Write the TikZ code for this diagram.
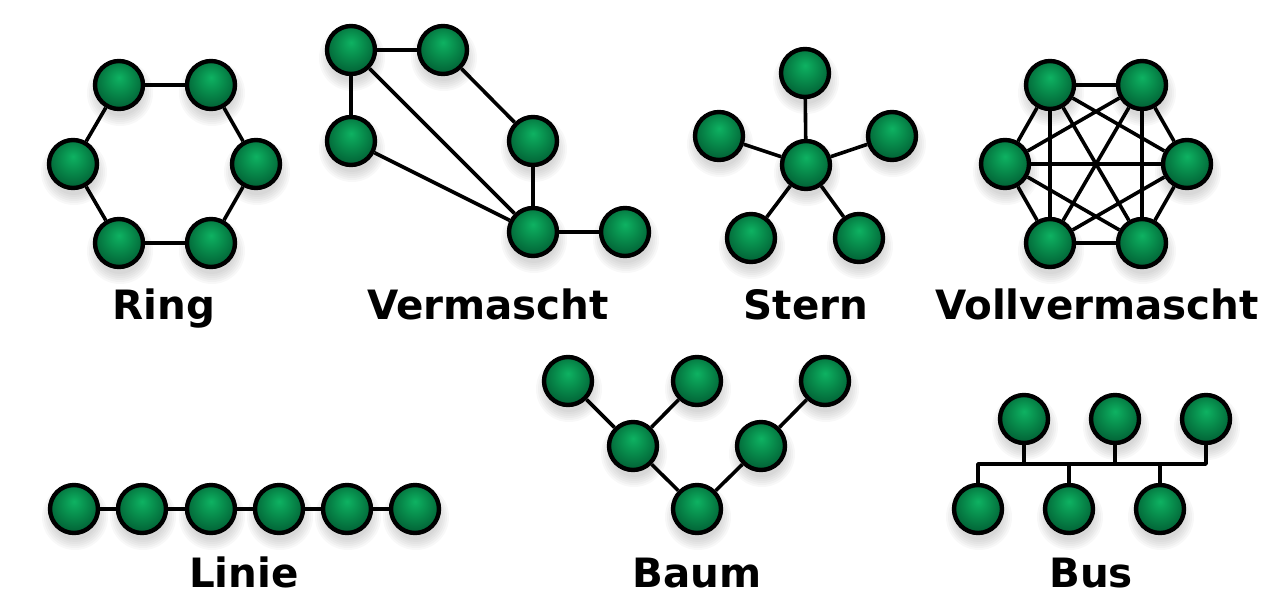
\documentclass[tikz,border=0pt]{standalone}
\usepackage{fontspec}
\setmainfont{DejaVu Sans}
\usetikzlibrary{backgrounds}
\definecolor{gA}{RGB}{14,178,98}
\definecolor{gB}{RGB}{8,144,78}
\definecolor{gC}{RGB}{3,106,58}
\definecolor{gD}{RGB}{0,72,40}
\pgfdeclareradialshading{gball}{\pgfpoint{0bp}{8bp}}{%
  color(0bp)=(gA); color(12bp)=(gB); color(25bp)=(gC); color(34bp)=(gD); color(50bp)=(gD)}
\tikzset{
  ballnode/.style={circle,draw=black,line width=3.3pt,minimum size=36pt,inner sep=0pt,shading=gball},
  linkline/.style={draw=black,line width=2.7pt,line join=round},
  caption/.style={font=\bfseries\fontsize{30.3pt}{30.3pt}\selectfont,anchor=base,text=black,inner sep=0pt},
  x=0.75pt,y=-0.75pt
}
\newcommand\ball[3]{%
  \begin{pgfonlayer}{background}
    \foreach \r in {33,31,29,27,25,23}{\fill[black,opacity=0.028] (#2+1,#3+8) circle[radius=\r*0.75pt];}
  \end{pgfonlayer}
  \node[ballnode] (#1) at (#2,#3) {};}
\begin{document}
\begin{tikzpicture}
\useasboundingbox (0,0) rectangle (1280,600);
% Ring
\ball{ra}{119}{85}\ball{rb}{211}{85}\ball{rc}{256}{164}\ball{rd}{211}{243}\ball{re}{119}{243}\ball{rf}{73}{164}
\draw[linkline] (ra)--(rb) (rb)--(rc) (rc)--(rd) (rd)--(re) (re)--(rf) (rf)--(ra);
\node[caption] (lring) at (164,319) {Ring};
% Vermascht
\ball{va}{351}{50}\ball{vb}{443}{50}\ball{vc}{533}{141}\ball{vd}{351}{141}\ball{ve}{533}{232}\ball{vf}{625}{232}
\draw[linkline] (va)--(vb) (vb)--(vc) (vc)--(ve) (va)--(vd) (va)--(ve) (vd)--(ve) (ve)--(vf);
\node[caption] (lverm) at (488,319) {Vermascht};
% Stern
\ball{sc}{806}{165}\ball{st}{805}{73}\ball{sl}{719}{136}\ball{sr}{892}{136}\ball{sp}{751}{238}\ball{sq}{859}{238}
\draw[linkline] (sc)--(st) (sc)--(sl) (sc)--(sr) (sc)--(sp) (sc)--(sq);
\node[caption] (lstern) at (806,319) {Stern};
% Vollvermascht
\ball{fa}{1050}{85}\ball{fb}{1142}{85}\ball{fc}{1187}{164}\ball{fd}{1142}{243}\ball{fe}{1050}{243}\ball{ff}{1005}{164}
\draw[linkline] (fa)--(fb) (fa)--(fc) (fa)--(fd) (fa)--(fe) (fa)--(ff)
  (fb)--(fc) (fb)--(fd) (fb)--(fe) (fb)--(ff)
  (fc)--(fd) (fc)--(fe) (fc)--(ff)
  (fd)--(fe) (fd)--(ff) (fe)--(ff);
\node[caption] (lvoll) at (1097,319) {Vollvermascht};
% Linie
\ball{la}{74}{509}\ball{lb}{142}{509}\ball{lc}{211}{509}\ball{ld}{279}{509}\ball{le}{347}{509}\ball{lf}{415}{509}
\draw[linkline] (la)--(lb) (lb)--(lc) (lc)--(ld) (ld)--(le) (le)--(lf);
\node[caption] (llinie) at (244,587) {Linie};
% Baum
\ball{ba}{568}{381}\ball{bb}{697}{381}\ball{bc}{825}{381}\ball{bd}{633}{446}\ball{be}{761}{446}\ball{bf}{697}{509}
\draw[linkline] (ba)--(bd) (bb)--(bd) (bd)--(bf) (bf)--(be) (be)--(bc);
\node[caption] (lbaum) at (697,587) {Baum};
% Bus
\ball{ua}{1024}{419}\ball{ub}{1115}{419}\ball{uc}{1206}{419}\ball{ud}{978}{509}\ball{ue}{1069}{509}\ball{uf}{1160}{509}
\coordinate (busl) at (978,464);
\coordinate (busr) at (1206,464);
\draw[linkline] (ud)--(busl)--(busr)--(uc);
\draw[linkline] (ua) |- (busl);
\draw[linkline] (ub) |- (busl);
\draw[linkline] (ue) |- (busl);
\draw[linkline] (uf) |- (busl);
\node[caption] (lbus) at (1091,587) {Bus};
\end{tikzpicture}
\end{document}
